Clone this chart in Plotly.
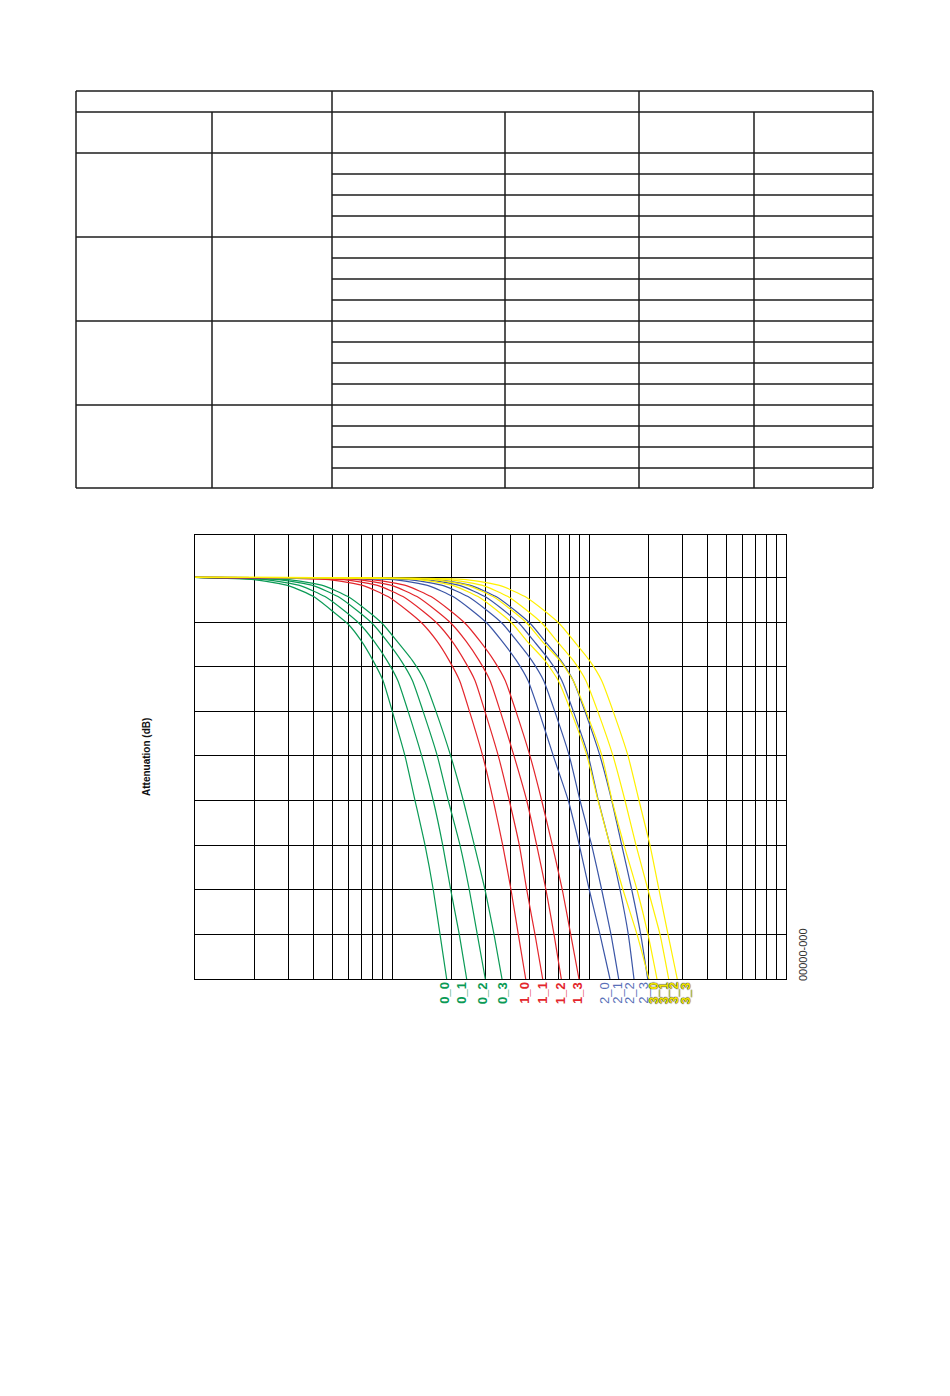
import numpy as np
import plotly.graph_objects as go

# ---------------- data ----------------
# attenuation levels (dB) shared by all curves; frequencies at which each curve reaches them
levels = [0, -0.5, -1.9, -4.3, -7.6, -10.5, -14.3, -18.6, -23.1, -29.8, -40, -50, -60, -70, -80, -90]

f_0_0 = [1, 2.0, 3.0, 4.0, 5.0, 6.0, 7.0, 8.0, 9.0, 10.0, 11.64, 13.09, 14.71, 16.2, 17.53, 18.95]
f_0_1 = [1, 2.29, 3.45, 4.57, 5.77, 6.88, 8.10, 9.42, 10.70, 12.03, 14.15, 16.20, 18.09, 19.86, 21.96, 23.94]
f_0_2 = [1, 2.67, 4.02, 5.32, 6.72, 8.01, 9.43, 11.10, 12.69, 14.33, 16.98, 19.31, 22.14, 24.68, 27.10, 29.76]
f_0_3 = [1, 3.00, 4.52, 5.98, 7.55, 9.00, 10.60, 12.68, 14.60, 16.65, 19.86, 23.01, 26.17, 29.66, 32.95, 36.18]
f_1_0 = [1, 4.79, 7.21, 9.54, 12.06, 14.37, 16.92, 19.49, 22.03, 24.65, 28.87, 32.68, 36.47, 40.19, 43.77, 47.73]
f_1_1 = [1, 5.71, 8.59, 11.37, 14.37, 17.12, 20.16, 23.28, 26.38, 29.52, 34.64, 39.39, 44.29, 48.29, 53.19, 58.21]
f_1_2 = [1, 6.72, 10.12, 13.39, 16.92, 20.16, 23.75, 27.65, 31.44, 35.34, 41.63, 48.29, 54.26, 60.48, 66.44, 72.36]
f_1_3 = [1, 7.92, 11.92, 15.78, 19.93, 23.75, 27.97, 32.87, 37.55, 42.42, 50.17, 57.53, 65.14, 73.21, 80.74, 88.96]
f_2_0 = [1, 10.24, 15.41, 20.40, 25.77, 30.71, 36.18, 42.76, 49.01, 55.49, 65.91, 78.50, 89.29, 100.3, 113.7, 127.8]
f_2_1 = [1, 12.20, 18.37, 24.31, 30.71, 36.61, 43.11, 51.18, 58.82, 66.76, 79.43, 90.03, 103.2, 116.0, 129.3, 141.5]
f_2_2 = [1, 14.88, 22.40, 29.66, 37.46, 44.65, 52.57, 63.02, 72.78, 82.94, 99.17, 111.5, 127.8, 143.7, 158.3, 169.2]
f_2_3 = [1, 16.92, 25.47, 33.72, 42.61, 50.77, 59.78, 71.94, 83.13, 94.99, 113.7, 130.4, 146.6, 164.8, 183.0, 198.6]
f_3_0 = [1, 13.71, 20.64, 27.33, 34.52, 41.14, 48.45, 59.65, 69.79, 80.64, 97.68, 111.1, 127.8, 148.8, 175.3, 201.6]
f_3_1 = [1, 16.34, 24.60, 32.57, 41.14, 49.01, 57.73, 71.10, 83.13, 96.09, 116.4, 130.9, 150.6, 175.3, 199.3, 221.4]
f_3_2 = [1, 19.47, 29.31, 38.80, 49.01, 58.41, 68.80, 83.13, 96.34, 110.3, 132.4, 152.3, 173.2, 199.3, 229.3, 253.9]
f_3_3 = [1, 23.75, 35.76, 47.33, 59.78, 71.26, 83.92, 100.5, 115.9, 132.1, 157.8, 179.4, 203.9, 226.6, 251.8, 280.6]

curve_names = ["0_0", "0_1", "0_2", "0_3", "1_0", "1_1", "1_2", "1_3",
               "2_0", "2_1", "2_2", "2_3", "3_0", "3_1", "3_2", "3_3"]
curve_freqs = [f_0_0, f_0_1, f_0_2, f_0_3, f_1_0, f_1_1, f_1_2, f_1_3,
               f_2_0, f_2_1, f_2_2, f_2_3, f_3_0, f_3_1, f_3_2, f_3_3]

# grid ticks
x_ticks = [1, 2, 3, 4, 5, 6, 7, 8, 9, 10, 20, 30, 40, 50, 60, 70, 80, 90,
           100, 200, 300, 400, 500, 600, 700, 800, 900, 1000]
y_ticks = [-90, -80, -70, -60, -50, -40, -30, -20, -10, 0]

side_note = "00000-000"
y_title = "Attenuation (dB)"

# ---------------- styles ----------------
group_colors = {"0": "#0A9A55", "1": "#E3262C", "2": "#3A55A6", "3": "#FFF000"}
label_font_colors = {"0": "#0A9A55", "1": "#E3262C", "2": "#5A70B8", "3": "#F2E400"}
label_xshift = [-3, -6, -3, 0, -2, -1, -1, -2, -6, -2, -5, -5, 4, 6, 4, 8]

OFF = 8                      # page body margin of the browser
W, H = 950 - OFF, 1396 - OFF
PL, PR, PT, PB = 195, 786, 535, 979   # plot area in page pixels


def px_x(px):
    return (px - PL) / (PR - PL)


def px_y(py):
    return (PB - py) / (PB - PT)


fig = go.Figure()
for name, fr in zip(curve_names, curve_freqs):
    fig.add_trace(go.Scatter(
        x=fr, y=levels, mode="lines",
        line=dict(color=group_colors[name[0]], width=1.2, shape="spline", smoothing=0.5),
        showlegend=False, hoverinfo="skip"))

# curve labels at bottom
annotations = []
for i, (name, fr) in enumerate(zip(curve_names, curve_freqs)):
    g = name[0]
    font = dict(family="Arial, Liberation Sans, sans-serif", size=13,
                color=label_font_colors[g], weight="bold" if g in "013" else "normal")
    if g == "3":
        font["shadow"] = "0px 0px 1px #222, 0px 0px 1px #222"
    annotations.append(dict(
        x=np.log10(fr[-1]), xref="x", y=px_y(993), yref="paper",
        text=name, textangle=-90, showarrow=False, font=font,
        xanchor="center", yanchor="middle", xshift=label_xshift[i]))

annotations.append(dict(
    x=px_x(146), y=0.5, xref="paper", yref="paper", text=y_title,
    textangle=-90, showarrow=False, xanchor="center", yanchor="middle",
    font=dict(family="Arial, Liberation Sans, sans-serif", size=10, color="#111", weight="bold")))
annotations.append(dict(
    x=px_x(803), y=px_y(954), xref="paper", yref="paper", text=side_note,
    textangle=-90, showarrow=False, xanchor="center", yanchor="middle",
    font=dict(family="Arial, Liberation Sans, sans-serif", size=11, color="#333")))

# ---------------- empty table (layout decoration) ----------------
col_edges = [76, 212, 332, 505, 639, 754, 873]
row_edges = [91, 112, 153, 174, 195, 216, 237, 258, 279, 300, 321, 342, 363,
             384, 405, 426, 447, 468, 488]
group_rows = [153, 237, 321, 405, 488]
shapes = []
tline = dict(color="#1c1c1c", width=1.5)


def seg(x0, y0, x1, y1):
    shapes.append(dict(type="line", xref="paper", yref="paper",
                       x0=px_x(x0), y0=px_y(y0), x1=px_x(x1), y1=px_y(y1), line=tline))


for y in row_edges:
    if y in (91, 112) or y in group_rows:
        seg(col_edges[0], y, col_edges[-1], y)
    else:
        seg(col_edges[2], y, col_edges[-1], y)
for x in col_edges:
    if x in (76, 332, 639, 873):
        seg(x, row_edges[0], x, row_edges[-1])
    else:
        seg(x, row_edges[1], x, row_edges[-1])

fig.update_layout(
    width=W, height=H,
    margin=dict(l=PL - OFF, r=W - (PR - OFF), t=PT - OFF, b=H - (PB - OFF)),
    paper_bgcolor="white", plot_bgcolor="white",
    showlegend=False,
    annotations=annotations,
    shapes=shapes,
)
fig.update_xaxes(type="log", range=[0, 3], tickvals=x_ticks, showticklabels=False,
                 ticks="", showgrid=True, gridcolor="black", gridwidth=1,
                 showline=True, linecolor="black", linewidth=1.2, mirror=True, zeroline=False)
fig.update_yaxes(range=[-90, 9.5], tickvals=y_ticks, showticklabels=False,
                 ticks="", showgrid=True, gridcolor="black", gridwidth=1,
                 showline=True, linecolor="black", linewidth=1.2, mirror=True, zeroline=False)

fig.write_html("out.html")
